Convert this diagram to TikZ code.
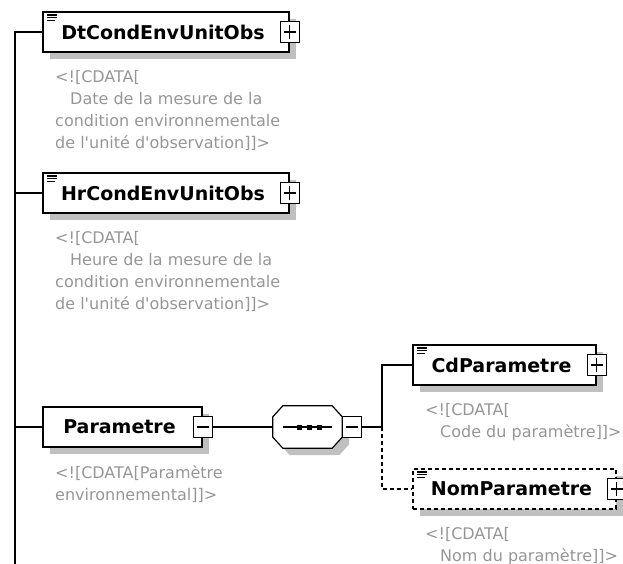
\documentclass[tikz,border=0pt]{standalone}
\usepackage{fontspec}
\setmainfont{DejaVu Sans}[Ligatures=TeXOff]
\usetikzlibrary{shadows}
\definecolor{shade}{RGB}{192,192,192}
\definecolor{anno}{RGB}{150,150,150}
\tikzset{
  conn/.style={line width=1.2pt},
  optconn/.style={conn, dash pattern=on 4pt off 3pt},
  elem/.style={draw, line width=1.2pt, fill=white, minimum height=40pt, inner sep=0pt,
    font=\bfseries\fontsize{19}{22}\selectfont,
    drop shadow={shadow xshift=7pt, shadow yshift=-7pt, fill=shade, opacity=1}},
  optelem/.style={elem, dash pattern=on 4pt off 3pt},
  icon/.style={path picture={
    \foreach \dy/\w in {3/10,5.7/10,8.4/8}
      \draw[solid, line width=1.3pt] ([shift={(4pt,-\dy*1pt)}]path picture bounding box.north west) -- ++(\w*1pt,0pt);}},
  note/.style={anchor=north west, inner sep=0pt, align=left, text=anno,
    font=\fontsize{16}{22}\selectfont},
  expbox/.style={draw, solid, fill=white, line width=1.2pt, minimum width=19pt, minimum height=21pt, inner sep=0pt},
  plusbox/.style={expbox, path picture={
    \draw[line width=1.2pt] ([xshift=3.5pt]path picture bounding box.west) -- ([xshift=-3.5pt]path picture bounding box.east)
      ([yshift=-3.5pt]path picture bounding box.north) -- ([yshift=3.5pt]path picture bounding box.south);}},
  minusbox/.style={expbox, path picture={
    \draw[line width=1.2pt] ([xshift=3.5pt]path picture bounding box.west) -- ([xshift=-3.5pt]path picture bounding box.east);}},
  seqframe/.style={minimum width=69pt, minimum height=42pt, inner sep=0pt},
  seqdot/.style={fill=black, minimum size=5pt, inner sep=0pt}
}
\begin{document}
\begin{tikzpicture}[x=1pt,y=-1pt]
\useasboundingbox (0,0) rectangle (623,564);
\clip (0,0) rectangle (623,564);

% connectors
\coordinate (trunkend) at (15,564);
\coordinate (br) at (382,427);
\node[elem, icon, minimum width=246pt] (dt) at (166,32) {DtCondEnvUnitObs\hspace*{6pt}};
\node[elem, icon, minimum width=246pt] (hr) at (166,193) {HrCondEnvUnitObs\hspace*{6pt}};
\node[elem, minimum width=159pt] (par) at (122.5,427) {Parametre\hspace*{6pt}};
\node[seqframe] (seq) at (307.5,427) {};
\node[elem, icon, minimum width=183pt] (cd) at (504.5,365) {CdParametre\hspace*{6pt}};
\node[optelem, icon, minimum width=203pt] (nom) at (514.5,489) {NomParametre\hspace*{6pt}};

\draw[conn] (trunkend) |- (dt.west);
\draw[conn] (hr.west) -- (hr.west -| trunkend);
\draw[conn] (par.west) -- (par.west -| trunkend);

% sequence compositor
\path[draw, fill=white, line width=1.2pt,
  drop shadow={shadow xshift=7pt, shadow yshift=-7pt, fill=shade, opacity=1}]
  ([xshift=10pt]seq.north west) -- ([xshift=-10pt]seq.north east) -- ([yshift=-11pt]seq.north east)
  -- ([yshift=11pt]seq.south east) -- ([xshift=-10pt]seq.south east) -- ([xshift=10pt]seq.south west)
  -- ([yshift=11pt]seq.south west) -- ([yshift=-11pt]seq.north west) -- cycle;
\draw[conn] ([xshift=10pt]seq.west) -- ([xshift=-10pt]seq.east);
\node[seqdot] (d1) at ([xshift=-8pt]seq.center) {};
\node[seqdot] (d2) at ([xshift=2pt]seq.center) {};
\node[seqdot] (d3) at ([xshift=12pt]seq.center) {};

\node[plusbox] (dtx) at (dt.east) {};
\node[plusbox] (hrx) at (hr.east) {};
\node[minusbox] (parx) at (par.east) {};
\node[minusbox, anchor=west] (seqx) at (seq.east) {};
\node[plusbox] (cdx) at (cd.east) {};
\node[plusbox] (nomx) at (nom.east) {};

\draw[conn] (parx.east) -- (seq.west);
\draw[conn] (seqx.east) -- (br) |- (cd.west);
\draw[optconn] (br) |- (nom.west);

% annotations
\node[note] (dtn) at (55,70) {<![CDATA[\\\hspace*{15pt}Date de la mesure de la\\condition environnementale\\de l'unité d'observation]]>};
\node[note] (hrn) at (55,231) {<![CDATA[\\\hspace*{15pt}Heure de la mesure de la\\condition environnementale\\de l'unité d'observation]]>};
\node[note] (parn) at (55,465) {<![CDATA[Paramètre\\environnemental]]>};
\node[note] (cdn) at (425,403) {<![CDATA[\\\hspace*{15pt}Code du paramètre]]>};
\node[note] (nomn) at (425,527) {<![CDATA[\\\hspace*{15pt}Nom du paramètre]]>};
\end{tikzpicture}
\end{document}
